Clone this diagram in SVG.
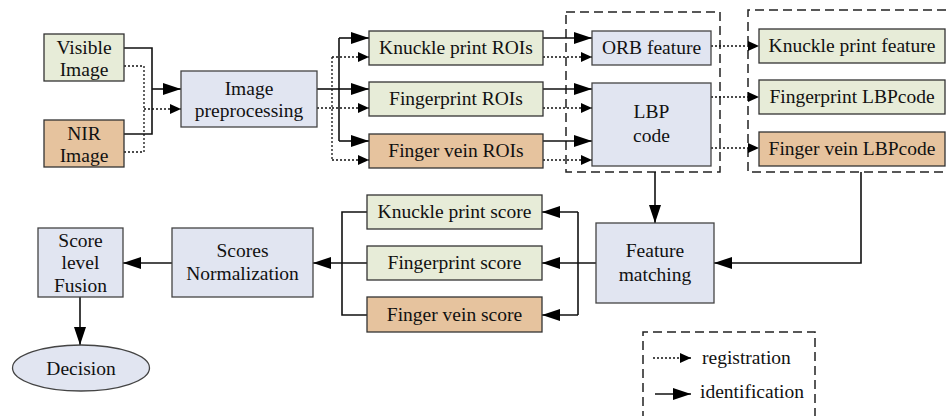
<svg xmlns="http://www.w3.org/2000/svg" width="948" height="416" viewBox="0 0 948 416">
<defs>
<marker id="sa" markerUnits="userSpaceOnUse" markerWidth="18" markerHeight="12" refX="18" refY="6" orient="auto"><path d="M0,0 L18,6 L0,12 Z" fill="#000"/></marker>
<marker id="da" markerUnits="userSpaceOnUse" markerWidth="11" markerHeight="10" refX="11" refY="5" orient="auto"><path d="M0,0 L11,5 L0,10 Z" fill="#000"/></marker>
</defs>
<style>
.g{fill:#e7ecd8;stroke:#333;stroke-width:1.3}
.o{fill:#e6c39e;stroke:#333;stroke-width:1.3}
.b{fill:#e1e5f1;stroke:#444;stroke-width:1.3}
text{fill:#111;text-anchor:middle}
.s{fill:none;stroke:#111;stroke-width:1.6}
.d{fill:none;stroke:#111;stroke-width:1.3;stroke-dasharray:2 2}
.dash{fill:none;stroke:#222;stroke-width:1.5;stroke-dasharray:9 5}
.l{text-anchor:start}
</style>
<rect width="948" height="416" fill="#fff"/>
<g id="containers">
<rect class="dash" x="566" y="12" width="154" height="160"/>
<path class="dash" d="M960,10 H748 V172 H960"/>
<path class="dash" d="M643,420 V332 H815 V420"/>
</g>
<g id="connectors">
<path class="s" d="M124,48 H152 V134 H124"/>
<path class="s" d="M152,89 H181" marker-end="url(#sa)"/>
<path class="d" d="M124,66 H144 V152 H124"/>
<path class="d" d="M144,109 H181" marker-end="url(#da)"/>
<path class="s" d="M317,89 H339"/>
<path class="s" d="M339,38 V141"/>
<path class="s" d="M339,38 H369" marker-end="url(#sa)"/>
<path class="s" d="M339,89 H369" marker-end="url(#sa)"/>
<path class="s" d="M339,141 H369" marker-end="url(#sa)"/>
<path class="d" d="M317,108 H332"/>
<path class="d" d="M332,57 V160"/>
<path class="d" d="M332,57 H369" marker-end="url(#da)"/>
<path class="d" d="M332,108 H369" marker-end="url(#da)"/>
<path class="d" d="M332,160 H369" marker-end="url(#da)"/>
<path class="s" d="M543,38 H592" marker-end="url(#sa)"/>
<path class="s" d="M543,89 H592" marker-end="url(#sa)"/>
<path class="s" d="M543,141 H592" marker-end="url(#sa)"/>
<path class="d" d="M543,57 H592" marker-end="url(#da)"/>
<path class="d" d="M543,108 H592" marker-end="url(#da)"/>
<path class="d" d="M543,160 H592" marker-end="url(#da)"/>
<path class="d" d="M711,46 H759" marker-end="url(#da)"/>
<path class="d" d="M711,97 H759" marker-end="url(#da)"/>
<path class="d" d="M711,148 H759" marker-end="url(#da)"/>
<path class="s" d="M655,172 V223" marker-end="url(#sa)"/>
<path class="s" d="M861,172 V263 H714" marker-end="url(#sa)"/>
<path class="s" d="M596,263 H542" marker-end="url(#sa)"/>
<path class="s" d="M578,212 V315"/>
<path class="s" d="M578,212 H542" marker-end="url(#sa)"/>
<path class="s" d="M578,315 H542" marker-end="url(#sa)"/>
<path class="s" d="M367,212 H342 V315 H367"/>
<path class="s" d="M367,263 H313" marker-end="url(#sa)"/>
<path class="s" d="M172,263 H123" marker-end="url(#sa)"/>
<path class="s" d="M80,297 V345" marker-end="url(#sa)"/>
</g>
<g font-family="Liberation Serif, Times New Roman, serif" font-size="19.5">
<g id="visible"><rect class="g" x="44" y="34" width="80" height="47"/><text x="84" y="54">Visible</text><text x="84" y="76">Image</text></g>
<g id="nir"><rect class="o" x="44" y="120" width="80" height="47"/><text x="84" y="140">NIR</text><text x="84" y="162">Image</text></g>
<g id="preproc"><rect class="b" x="181" y="71" width="136" height="56"/><text x="249" y="95">Image</text><text x="249" y="117">preprocessing</text></g>
<g id="kroi"><rect class="g" x="369" y="31" width="174" height="34"/><text x="456" y="54">Knuckle print ROIs</text></g>
<g id="froi"><rect class="g" x="369" y="82" width="174" height="34"/><text x="456" y="105">Fingerprint ROIs</text></g>
<g id="vroi"><rect class="o" x="369" y="134" width="174" height="34"/><text x="456" y="157">Finger vein ROIs</text></g>
<g id="orb"><rect class="b" x="592" y="31" width="119" height="34"/><text x="651.5" y="54">ORB feature</text></g>
<g id="lbp"><rect class="b" x="592" y="83" width="119" height="83"/><text x="651.5" y="118">LBP</text><text x="651.5" y="142">code</text></g>
<g id="kfeat"><rect class="g" x="759" y="29" width="186" height="34"/><text x="852" y="52">Knuckle print feature</text></g>
<g id="flbp"><rect class="g" x="759" y="80" width="186" height="34"/><text x="852" y="103">Fingerprint LBPcode</text></g>
<g id="vlbp"><rect class="o" x="759" y="132" width="186" height="34"/><text x="852" y="155">Finger vein LBPcode</text></g>
<g id="match"><rect class="b" x="596" y="223" width="118" height="80"/><text x="655" y="257">Feature</text><text x="655" y="281">matching</text></g>
<g id="kscore"><rect class="g" x="367" y="195" width="175" height="34"/><text x="454.5" y="218">Knuckle print score</text></g>
<g id="fscore"><rect class="g" x="367" y="246" width="175" height="34"/><text x="454.5" y="269">Fingerprint score</text></g>
<g id="vscore"><rect class="o" x="367" y="297" width="175" height="35"/><text x="454.5" y="321">Finger vein score</text></g>
<g id="norm"><rect class="b" x="172" y="228" width="141" height="69"/><text x="242.5" y="257">Scores</text><text x="242.5" y="280">Normalization</text></g>
<g id="fusion"><rect class="b" x="38" y="228" width="85" height="69"/><text x="80.5" y="247">Score</text><text x="80.5" y="269">level</text><text x="80.5" y="292">Fusion</text></g>
<g id="decision"><ellipse cx="81" cy="368" rx="68.5" ry="23" fill="#e1e5f1" stroke="#444" stroke-width="1.3"/><text x="81" y="375">Decision</text></g>
<g id="legend">
<path class="d" d="M653,358 H691" marker-end="url(#da)"/>
<path class="s" d="M655,394 H691" marker-end="url(#sa)"/>
<text class="l" x="702" y="364">registration</text>
<text class="l" x="700" y="398">identification</text>
</g>
</g>
</svg>
